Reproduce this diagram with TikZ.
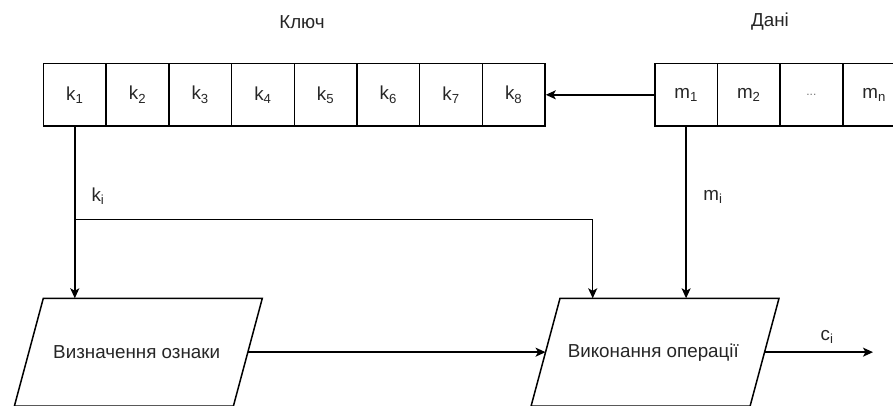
\documentclass[tikz,border=0pt]{standalone}
\usepackage{fontspec}
\setmainfont{Liberation Sans}
\usetikzlibrary{arrows.meta,calc}
\begin{document}
\begin{tikzpicture}[x=1pt,y=-1pt,
  every node/.style={font=\fontsize{18.8}{22}\selectfont, text=black!85},
  cell/.style={draw, line width=1.5pt, minimum width=62.7pt, minimum height=62.7pt,
    inner sep=0pt, anchor=north west},
  block/.style={line width=1.5pt},
  arr/.style={line width=1.5pt, -{Stealth[length=10pt,width=9pt,inset=2.5pt]}}
]
\useasboundingbox (0,0) rectangle (893,405);

% titles
\node (tkey) at (302,22) {Ключ};
\node (tdata) at (770,22) {Дані};

% key cells
\foreach \i in {1,...,8}
  \node[cell] (k\i) at ({42.7+(\i-1)*62.7},62.7) {k\textsubscript{\i}};

% data cells
\node[cell] (m1) at (654,62.7) {m\textsubscript{1}};
\node[cell] (m2) at (716.7,62.7) {m\textsubscript{2}};
\node[cell] (md) at (779.3,62.7) {\textcolor{black!55}{\fontsize{12}{14}\selectfont ...}};
\node[cell] (mn) at (842,62.7) {m\textsubscript{n}};

% processing blocks (parallelograms, lower edge just below the page)
\coordinate (p1tl) at (43.3,298.3);  \coordinate (p1tr) at (262.3,298.3);
\coordinate (p1br) at (233.4,406);   \coordinate (p1bl) at (14.4,406);
\coordinate (p2tl) at (560,298.3);   \coordinate (p2tr) at (779,298.3);
\coordinate (p2br) at (750.1,406);   \coordinate (p2bl) at (531.1,406);
\draw[block] (p1tl) -- (p1tr) -- (p1br) -- (p1bl) -- cycle;
\draw[block] (p2tl) -- (p2tr) -- (p2br) -- (p2bl) -- cycle;
\coordinate (p1r) at ($(p1tr)!0.5!(p1br)$);
\coordinate (p2l) at ($(p2tl)!0.5!(p2bl)$);
\coordinate (p2r) at ($(p2tr)!0.5!(p2br)$);
\node (p1) at (136.7,352.15) {Визначення ознаки};
\node (p2) at (653.3,352.15) {Виконання операції};

% connectors
\draw[arr] (m1.west) -- (k8.east);
\draw[arr] (k1.south) -- (k1.south |- p1tl);
\coordinate (fork) at (k1.south |- 0,219.3);
\coordinate (kin) at ([xshift=32.7pt]p2tl);
\draw[arr] (fork) -| (kin);
\draw[arr] (m1.south) -- (m1.south |- p2tl);
\draw[arr] (p1r) -- (p2l);
\coordinate (out) at (873,352.15);
\draw[arr] (p2r) -- (out);

% signal labels
\node (lk) at (98,196) {k\textsubscript{i}};
\node (lm) at (713,197) {m\textsubscript{i}};
\node (lc) at (827,337) {c\textsubscript{i}};
\end{tikzpicture}
\end{document}
